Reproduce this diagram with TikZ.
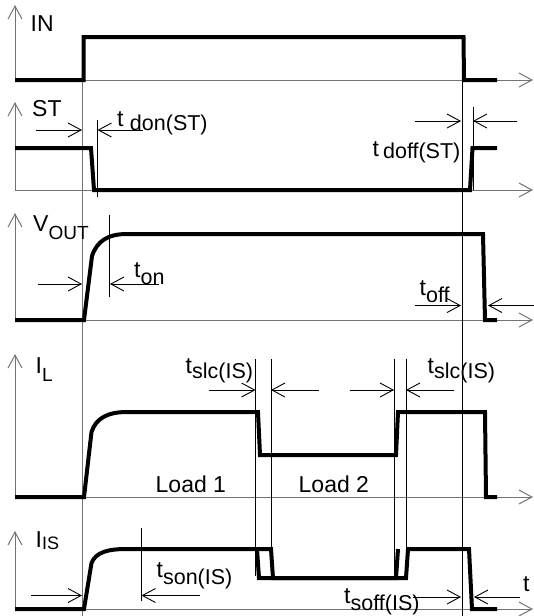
\documentclass[tikz,border=0pt]{standalone}
\usepackage{fontspec}
\setmainfont{Liberation Sans}
\usetikzlibrary{arrows.meta}
\newcommand{\sbx}[2]{\raisebox{-#1}{\fontsize{21.5}{22}\selectfont #2}}
\newcommand{\sbs}[2]{\raisebox{-#1}{\fontsize{19}{20}\selectfont #2}}
\begin{document}
\begin{tikzpicture}[x=1pt,y=-1pt,
  sig/.style={line width=4pt, line join=miter},
  ax/.style={draw=black!55, line width=1pt, -{Straight Barb[length=13pt,width=14pt]}},
  dim/.style={draw=black, line width=0.9pt, -{Straight Barb[length=13pt,width=14pt]}},
  vline/.style={draw=black, line width=0.9pt},
  gline/.style={draw=black!55, line width=1pt},
  lab/.style={inner sep=0pt, anchor=base west, font=\fontsize{23}{26}\selectfont},
]
\useasboundingbox (0,0) rectangle (534,616);

% axes
\foreach \b/\t in {80/5, 190/102, 320/213, 497/354, 609/531} {
  \draw[ax] (15,\b) -- (15,\t);
  \draw[ax] (15,\b) -- (533,\b);
}

% reference verticals
\draw[gline] (82,37) -- (82,616);
\draw[vline] (462.5,37) -- (462.5,616);
\draw[vline] (97.5,120) -- (97.5,197);
\draw[vline] (473,107) -- (473,190);
\draw[vline] (109,215) -- (109,297);
\draw[vline] (255.5,359) -- (255.5,576);
\draw[vline] (271,359) -- (271,550);
\draw[vline] (394,359) -- (394,575);
\draw[vline] (406,359) -- (406,550);
\draw[vline] (141.5,528) -- (141.5,601);

% signals
\draw[sig] (15,80) -- (83.5,80) -- (83.5,37) -- (463.5,37) -- (464,80) -- (497,80);
\draw[sig] (15,148) -- (91,148) -- (94,190) -- (470,190) -- (472.5,148) -- (497,148);
\draw[sig] (15,320) -- (84,320) -- (92,256) .. controls (97,241) and (108,234) .. (127,234) -- (483,234) -- (485,320) -- (497,320);
\draw[sig] (15,497) -- (84,497) -- (91.5,432) .. controls (96,418) and (108,412) .. (127,412) -- (258,412) -- (260,455) -- (396,455) -- (398,412) -- (485,412) -- (486,497) -- (497,497);
\draw[sig] (15,609) -- (84,609) -- (91.5,563) .. controls (96,552) and (108,549) .. (127,549) -- (271,549) -- (273,578) -- (406,578) -- (408,549) -- (469,549) -- (472,609) -- (497,609);
\draw[sig] (257,549) -- (259,578) -- (396,578) -- (398,549);

% dimension arrows
\coordinate (a1) at (36,130);   \coordinate (a1e) at (82,130);
\coordinate (a2) at (143,130);  \coordinate (a2e) at (97.5,130);
\coordinate (a3) at (415,121);  \coordinate (a3e) at (461,121);
\coordinate (a4) at (517,121);  \coordinate (a4e) at (473,121);
\coordinate (a5) at (37.5,284); \coordinate (a5e) at (82,284);
\coordinate (a6) at (158.5,284);\coordinate (a6e) at (110,284);
\coordinate (a7) at (415,305.5);\coordinate (a7e) at (461,305.5);
\coordinate (a8) at (534,305.5);\coordinate (a8e) at (488,305.5);
\coordinate (a9) at (208.5,390);\coordinate (a9e) at (255.5,390);
\coordinate (a10) at (318.5,390);\coordinate (a10e) at (271,390);
\coordinate (a11) at (349.5,390);\coordinate (a11e) at (394,390);
\coordinate (a12) at (453.5,390);\coordinate (a12e) at (406,390);
\coordinate (a13) at (31,595.5); \coordinate (a13e) at (82,595.5);
\coordinate (a14) at (199.5,595.5);\coordinate (a14e) at (141.5,595.5);
\coordinate (a15) at (412.5,597); \coordinate (a15e) at (461,597);
\coordinate (a16) at (520,597);   \coordinate (a16e) at (474,597);
\foreach \i in {1,...,16} { \draw[dim] (a\i) -- (a\i e); }

% labels
\node[lab] (lIN) at (30.5,31.5) {IN};
\node[lab] (lST) at (32,116.5) {ST};
\node[lab] (lVO) at (33,231) {V\sbs{8pt}{OUT}};
\node[lab] (lIL) at (35.5,373) {I\sbs{8pt}{L}};
\node[lab] (lIS) at (35.5,547) {I\raisebox{-2pt}{\fontsize{18}{18}\selectfont IS}};
\node[lab] (tdon) at (117,126) {t \sbx{4pt}{don(ST)}};
\node[lab] (tdoff) at (372.5,156) {t\hspace{4pt}\sbx{2.5pt}{doff(ST)}};
\node[lab] (ton) at (134,277) {t\sbx{7pt}{on}};
\node[lab] (toff) at (419.5,295) {t\sbx{7pt}{off}};
\node[lab] (tslc1) at (185.5,373) {t\sbx{5pt}{slc(IS)}};
\node[lab] (tslc2) at (427.5,373) {t\sbx{5pt}{slc(IS)}};
\node[lab] (tson) at (156.5,577) {t\sbx{7pt}{son(IS)}};
\node[lab] (tsoff) at (344,603) {t\sbx{7pt}{soff(IS)}};
\node[lab] (tt) at (523,591.5) {t};
\node[lab] (ld1) at (155.5,492) {Load 1};
\node[lab] (ld2) at (298.5,492) {Load 2};
\end{tikzpicture}
\end{document}
